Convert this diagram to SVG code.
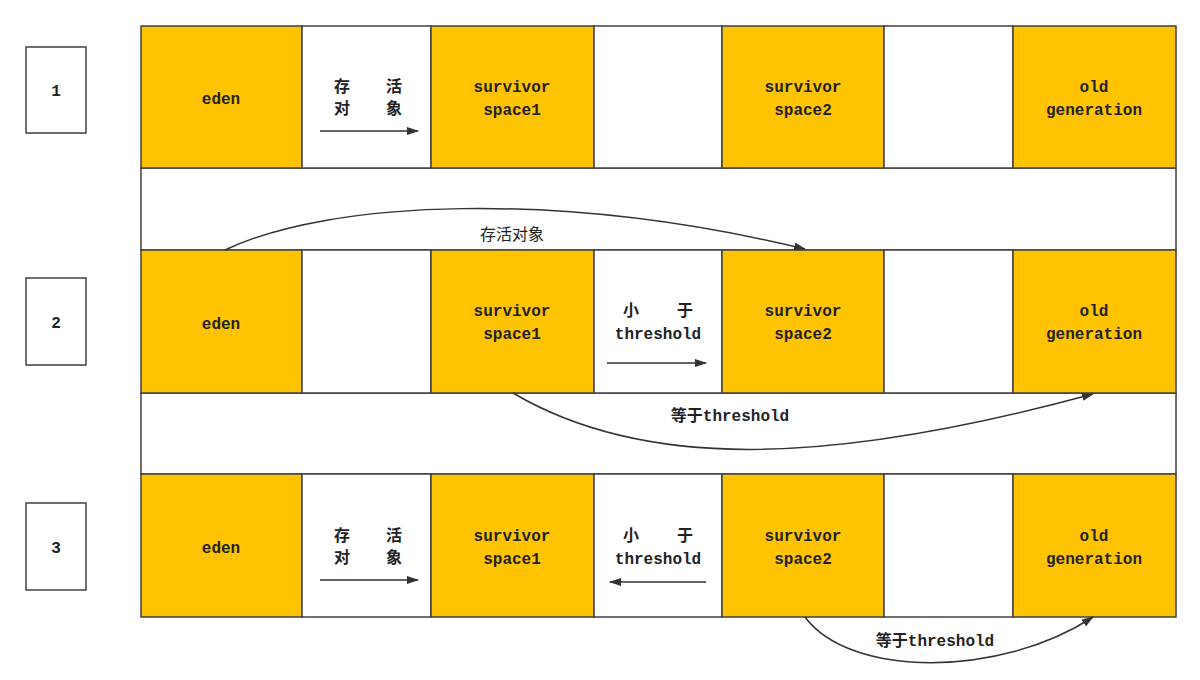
<svg xmlns="http://www.w3.org/2000/svg" width="1200" height="680" viewBox="0 0 1200 680">
<style>
.y{fill:#FFC300;stroke:#404040;stroke-width:1.5}
.w{fill:#fff;stroke:#404040;stroke-width:1.5}
text{font-family:"Liberation Mono","Noto Sans CJK SC",monospace;font-size:16px;font-weight:bold;fill:#222;text-anchor:middle}
.c{stroke:#333;stroke-width:1.5;fill:none;marker-end:url(#ah)}
</style>
<defs><marker id="ah" markerWidth="12" markerHeight="8" refX="11" refY="4" orient="auto" markerUnits="userSpaceOnUse"><path d="M0,0L12,4L0,8z" fill="#333"/></marker></defs>
<rect class="w" x="141" y="168" width="1035" height="82"/>
<rect class="w" x="141" y="393" width="1035" height="81"/>
<g id="labels">
<g id="n1"><rect class="w" x="26" y="47" width="60" height="86"/><text x="56" y="96">1</text></g>
<g id="n2"><rect class="w" x="26" y="278" width="60" height="87"/><text x="56" y="328">2</text></g>
<g id="n3"><rect class="w" x="26" y="503" width="60" height="87"/><text x="56" y="553">3</text></g>
</g>
<g id="row1">
<rect class="y" x="141" y="26" width="161" height="142"/><rect class="w" x="302" y="26" width="129" height="142"/>
<rect class="y" x="431" y="26" width="163" height="142"/><rect class="w" x="594" y="26" width="128" height="142"/>
<rect class="y" x="722" y="26" width="162" height="142"/><rect class="w" x="884" y="26" width="129" height="142"/>
<rect class="y" x="1013" y="26" width="163" height="142"/>
<text x="221" y="104">eden</text>
<text x="342" y="92">存</text><text x="394" y="92">活</text><text x="342" y="114">对</text><text x="394" y="114">象</text>
<text x="512" y="92">survivor</text><text x="512" y="115">space1</text>
<text x="803" y="92">survivor</text><text x="803" y="115">space2</text>
<text x="1094" y="92">old</text><text x="1094" y="115">generation</text>
</g>
<g id="row2">
<rect class="y" x="141" y="250" width="161" height="143"/><rect class="w" x="302" y="250" width="129" height="143"/>
<rect class="y" x="431" y="250" width="163" height="143"/><rect class="w" x="594" y="250" width="128" height="143"/>
<rect class="y" x="722" y="250" width="162" height="143"/><rect class="w" x="884" y="250" width="129" height="143"/>
<rect class="y" x="1013" y="250" width="163" height="143"/>
<text x="221" y="329">eden</text>
<text x="512" y="316">survivor</text><text x="512" y="339">space1</text>
<text x="631" y="316">小</text><text x="685" y="316">于</text><text x="658" y="339">threshold</text>
<text x="803" y="316">survivor</text><text x="803" y="339">space2</text>
<text x="1094" y="316">old</text><text x="1094" y="339">generation</text>
</g>
<g id="row3">
<rect class="y" x="141" y="474" width="161" height="143"/><rect class="w" x="302" y="474" width="129" height="143"/>
<rect class="y" x="431" y="474" width="163" height="143"/><rect class="w" x="594" y="474" width="128" height="143"/>
<rect class="y" x="722" y="474" width="162" height="143"/><rect class="w" x="884" y="474" width="129" height="143"/>
<rect class="y" x="1013" y="474" width="163" height="143"/>
<text x="221" y="553">eden</text>
<text x="342" y="541">存</text><text x="394" y="541">活</text><text x="342" y="563">对</text><text x="394" y="563">象</text>
<text x="512" y="541">survivor</text><text x="512" y="564">space1</text>
<text x="631" y="541">小</text><text x="685" y="541">于</text><text x="658" y="564">threshold</text>
<text x="803" y="541">survivor</text><text x="803" y="564">space2</text>
<text x="1094" y="541">old</text><text x="1094" y="564">generation</text>
</g>
<g id="connectors">
<path class="c" d="M320,131H418"/>
<path class="c" d="M607,363H706"/>
<path class="c" d="M320,580H418"/>
<path class="c" d="M706,582H610"/>
<path class="c" d="M225,250C330,200 560,190 805,249"/>
<path class="c" d="M513,393C640,468 820,468 1093,394"/>
<path class="c" d="M805,617C850,678 1000,678 1093,617"/>
<text x="512" y="240" style="font-weight:normal">存活对象</text>
<text x="730" y="421">等于threshold</text>
<text x="935" y="646">等于threshold</text>
</g>
</svg>
